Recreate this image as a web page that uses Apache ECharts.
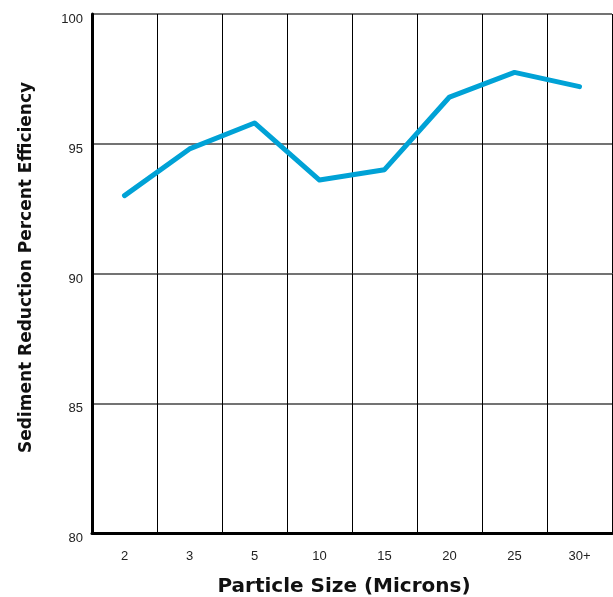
<!DOCTYPE html>
<html><head><meta charset="utf-8">
<script src="https://cdn.jsdelivr.net/npm/echarts@6/dist/echarts.min.js"></script>
<style>html,body{margin:0;padding:0;background:#fff}#c{width:613px;height:597px}</style>
</head><body><div id="c"></div>
<script>
const categories = ['2','3','5','10','15','20','25','30+'];
const efficiency = [93.0, 94.8, 95.8, 93.6, 94.0, 96.8, 97.75, 97.2];
const yTicks = [80, 85, 90, 95, 100];
const xTitle = 'Particle Size (Microns)';
const yTitle = 'Sediment Reduction Percent Efficiency';

const chart = echarts.init(document.getElementById('c'), null, {renderer:'canvas'});
chart.setOption({
  animation:false,
  grid:{left:92, top:14, right:1, bottom:64, containLabel:false, outerBoundsMode:'none'},
  xAxis:{
    type:'category', data:categories, boundaryGap:true,
    name:xTitle, nameLocation:'middle', nameGap:44,
    nameTextStyle:{fontFamily:'DejaVu Sans', fontWeight:'bold', fontSize:20, color:'#111', padding:[0,16,0,0]},
    axisLine:{lineStyle:{color:'#000', width:3}},
    axisTick:{show:false},
    axisLabel:{fontFamily:'Liberation Sans', fontSize:13, color:'#222', margin:17},
    splitLine:{show:true, lineStyle:{color:'#000', width:1}}
  },
  yAxis:{
    type:'value', min:yTicks[0], max:yTicks[yTicks.length-1], interval:5,
    name:yTitle, nameLocation:'middle', nameGap:57, nameRotate:90,
    nameTextStyle:{fontFamily:'DejaVu Sans', fontWeight:'bold', fontSize:17, color:'#111', padding:[0,0,0,12]},
    axisLine:{show:true, lineStyle:{color:'#000', width:3}},
    axisTick:{show:false},
    axisLabel:{fontFamily:'Liberation Sans', fontSize:13, color:'#222', margin:9, verticalAlign:'top', padding:[-1,0,0,0]},
    splitLine:{show:true, lineStyle:{color:'#444', width:1.5}}
  },
  series:[{
    type:'line', data:efficiency, symbol:'none',
    lineStyle:{color:'#00A2D6', width:5, cap:'round', join:'round'}
  }]
});
</script></body></html>
